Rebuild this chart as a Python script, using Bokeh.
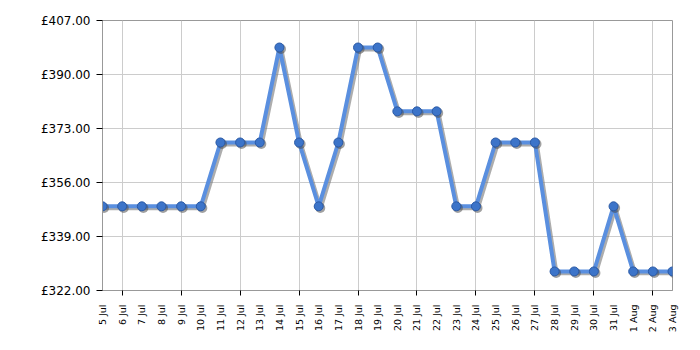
from bokeh.plotting import figure
from bokeh.models import ColumnDataSource, FixedTicker, PrintfTickFormatter, Range1d
from bokeh.transform import dodge
from bokeh.embed import file_html
from bokeh.resources import INLINE
import math

dates = ["5 Jul", "6 Jul", "7 Jul", "8 Jul", "9 Jul", "10 Jul", "11 Jul", "12 Jul",
         "13 Jul", "14 Jul", "15 Jul", "16 Jul", "17 Jul", "18 Jul", "19 Jul", "20 Jul",
         "21 Jul", "22 Jul", "23 Jul", "24 Jul", "25 Jul", "26 Jul", "27 Jul", "28 Jul",
         "29 Jul", "30 Jul", "31 Jul", "1 Aug", "2 Aug", "3 Aug"]
prices = [348.5, 348.5, 348.5, 348.5, 348.5, 348.5, 368.6, 368.6,
          368.6, 398.5, 368.6, 348.5, 368.6, 398.5, 398.5, 378.4,
          378.4, 378.4, 348.5, 348.5, 368.6, 368.6, 368.6, 328.0,
          328.0, 328.0, 348.5, 328.0, 328.0, 328.0]
y_ticks = [322, 339, 356, 373, 390, 407]

idx = list(range(len(dates)))
src = ColumnDataSource(data=dict(x=idx, y=prices))

p = figure(width=700, height=350, output_backend="svg", toolbar_location=None,
           x_range=Range1d(0, len(dates) - 1), y_range=Range1d(y_ticks[0], y_ticks[-1]),
           min_border_left=102, min_border_right=28, min_border_top=20, min_border_bottom=60)
p.background_fill_color = "white"
p.border_fill_color = "white"
p.outline_line_color = "#999999"

# shadow
p.line(x=dodge("x", 0.1), y=dodge("y", -0.6), source=src, line_width=4,
       line_color="#777777", line_alpha=0.6)
p.line(x="x", y="y", source=src, line_width=4, line_color="#5a8fdf")
# marker shadow
p.scatter(x=dodge("x", 0.08), y=dodge("y", -0.5), source=src, size=10,
          fill_color="#444444", fill_alpha=0.5, line_color=None)
p.scatter(x="x", y="y", source=src, size=9, fill_color="#3c74c9",
          line_color="#2b5aa6", line_width=1)

# x axis
every3 = idx[1::3]
p.xaxis.ticker = FixedTicker(ticks=idx, minor_ticks=every3)
p.xaxis.major_label_overrides = {i: d for i, d in zip(idx, dates)}
p.xaxis.major_label_orientation = math.pi / 2
p.xaxis.major_tick_out = 0
p.xaxis.major_tick_in = 0
p.xaxis.minor_tick_out = 5
p.xaxis.minor_tick_in = 0
p.xaxis.minor_tick_line_color = "black"
p.xaxis.major_label_standoff = 9
p.xaxis.major_label_text_font = "DejaVu Sans"
p.xaxis.major_label_text_font_size = "9.5px"
p.xaxis.major_label_text_color = "black"
p.xaxis.axis_line_color = "#999999"
p.xgrid.ticker = FixedTicker(ticks=every3)
p.xgrid.grid_line_color = "#cccccc"

# y axis
p.yaxis.ticker = FixedTicker(ticks=y_ticks)
p.yaxis.formatter = PrintfTickFormatter(format="£%.2f")
p.yaxis.major_tick_out = 6
p.yaxis.major_tick_in = 0
p.yaxis.minor_tick_line_color = None
p.yaxis.major_tick_line_color = "black"
p.yaxis.major_label_standoff = 6
p.yaxis.major_label_text_font = "DejaVu Sans"
p.yaxis.major_label_text_font_size = "12px"
p.yaxis.major_label_text_color = "black"
p.yaxis.axis_line_color = "#999999"
p.ygrid.grid_line_color = "#cccccc"

open("out.html", "w").write(file_html(p, INLINE))
